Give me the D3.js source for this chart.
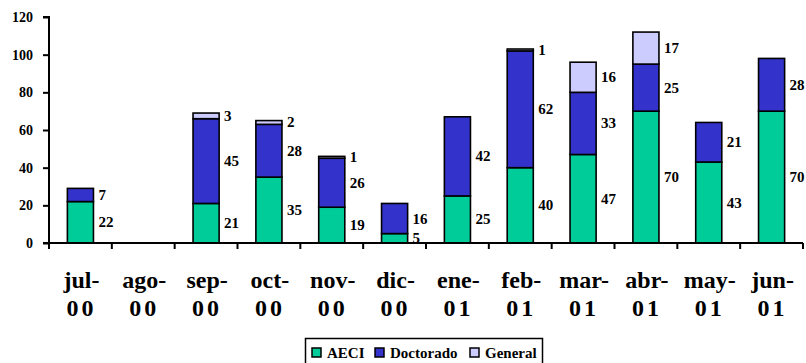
<!DOCTYPE html>
<html>
<head>
<meta charset="utf-8">
<script src="https://cdn.jsdelivr.net/npm/d3@7"></script>
</head>
<body style="margin:0; background:#fff;">
<script>
// ----- DATA -----
const months = ["jul-00", "ago-00", "sep-00", "oct-00", "nov-00", "dic-00",
                "ene-01", "feb-01", "mar-01", "abr-01", "may-01", "jun-01"];
const aeci      = [22, 0, 21, 35, 19, 5, 25, 40, 47, 70, 43, 70];
const doctorado = [7, 0, 45, 28, 26, 16, 42, 62, 33, 25, 21, 28];
const general   = [0, 0, 3, 2, 1, 0, 0, 1, 16, 17, 0, 0];
const seriesNames = ["AECI", "Doctorado", "General"];
const yTicks = [0, 20, 40, 60, 80, 100, 120];

const colors = {AECI: "#00CC99", Doctorado: "#3333CC", General: "#CCCCFF"};
const FONT = "'Liberation Serif'";

const w = 806, h = 363;

// table for the stack
const table = months.map((m, i) => ({
  month: m, AECI: aeci[i], Doctorado: doctorado[i], General: general[i]
}));

const svg = d3.select("body").append("svg")
  .attr("width", w)
  .attr("height", h)
  .style("font-family", FONT)
  .style("font-weight", "bold");

// ----- SCALES -----
const xScale = d3.scaleBand()
  .domain(months)
  .range([49, 803])
  .padding(0);

const yScale = d3.scaleLinear()
  .domain([0, 120])
  .range([243, 17]);

const barW = xScale.bandwidth() * 0.415;

const stack = d3.stack().keys(seriesNames)(table);

// ----- BARS -----
const layers = svg.selectAll("g.layer")
  .data(stack)
  .enter().append("g")
  .attr("class", "layer")
  .attr("fill", d => colors[d.key]);

layers.selectAll("rect")
  .data(d => d.filter(p => p[1] - p[0] > 0))
  .enter().append("rect")
  .attr("x", d => xScale(d.data.month) + (xScale.bandwidth() - barW) / 2)
  .attr("y", d => yScale(d[1]))
  .attr("width", barW)
  .attr("height", d => yScale(d[0]) - yScale(d[1]))
  .attr("stroke", "#000")
  .attr("stroke-width", 1.6);

// value labels, right of the bar
layers.each(function (layer) {
  d3.select(this).selectAll("text.val")
    .data(layer.filter(p => p[1] - p[0] > 0))
    .enter().append("text")
    .attr("class", "val")
    .attr("x", d => xScale(d.data.month) + (xScale.bandwidth() + barW) / 2 + 5)
    .attr("y", d => yScale((d[0] + d[1]) / 2) + 5)
    .style("font-family", FONT)
    .style("font-weight", "bold")
    .style("font-size", "15px")
    .style("fill", "#000")
    .text(d => d[1] - d[0]);
});

// ----- AXES -----
const yAxis = d3.axisLeft(yScale).tickValues(yTicks).tickSize(6).tickPadding(10);
const gy = svg.append("g")
  .attr("transform", "translate(49,0)")
  .call(yAxis);
gy.select(".domain").attr("d", "M-6,17H0V243").attr("stroke", "#000").attr("stroke-width", 2).attr("fill", "none");
gy.selectAll(".tick line").attr("stroke", "#000").attr("stroke-width", 2);
gy.selectAll(".tick text")
  .style("font-family", FONT)
  .style("font-weight", "bold")
  .style("font-size", "14px")
  .style("fill", "#000");

// x axis: ticks on band boundaries
const gx = svg.append("g").attr("transform", "translate(0,243)");
gx.append("line")
  .attr("x1", 43).attr("x2", 803)
  .attr("stroke", "#000").attr("stroke-width", 2);
gx.selectAll("line.tk")
  .data(months.concat(["end"]))
  .enter().append("line")
  .attr("class", "tk")
  .attr("x1", (d, i) => 49 + i * xScale.step())
  .attr("x2", (d, i) => 49 + i * xScale.step())
  .attr("y1", 0).attr("y2", 6)
  .attr("stroke", "#000").attr("stroke-width", 2);

const xl = svg.append("g").selectAll("text")
  .data(months)
  .enter().append("text")
  .attr("text-anchor", "middle")
  .attr("transform", d => "translate(" + (xScale(d) + xScale.bandwidth() / 2 + 1) + ",0)")
  .style("font-family", FONT)
  .style("font-weight", "bold")
  .style("font-size", "24px");
xl.append("tspan").attr("x", 0).attr("y", 288).text(d => d.split("-")[0] + "-");
xl.append("tspan").attr("x", 0).attr("y", 316).style("letter-spacing", "3px").text(d => d.split("-")[1]);

// ----- LEGEND -----
const legend = svg.append("g");
legend.append("rect")
  .attr("x", 305.5).attr("y", 338.5)
  .attr("width", 237).attr("height", 30)
  .attr("fill", "#fff").attr("stroke", "#000").attr("stroke-width", 1.5);

const legX = [312, 375, 470];
seriesNames.forEach((s, i) => {
  legend.append("rect")
    .attr("x", legX[i]).attr("y", 348)
    .attr("width", 9).attr("height", 9)
    .attr("fill", colors[s]).attr("stroke", "#000").attr("stroke-width", 1.5);
  legend.append("text")
    .attr("x", legX[i] + 15).attr("y", 358)
    .style("font-family", FONT)
    .style("font-weight", "bold")
    .style("font-size", "15px")
    .text(s);
});
</script>
</body>
</html>
